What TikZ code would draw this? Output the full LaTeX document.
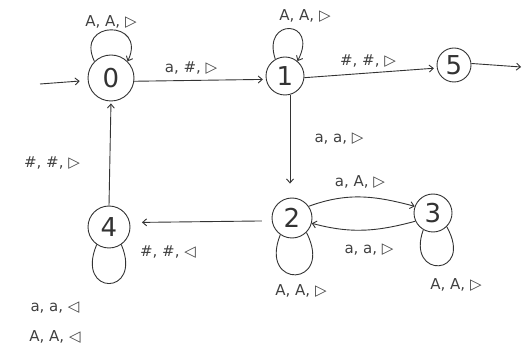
\documentclass[tikz,border=0pt]{standalone}
\usepackage{fontspec}
\setmainfont{DejaVu Sans}
\usetikzlibrary{arrows.meta}
\begin{document}
\begin{tikzpicture}[x=1pt,y=-1pt,
  ink/.style={draw=black!80, line width=0.9pt},
  state/.style={circle, draw=black!80, line width=0.9pt, inner sep=0pt,
    font=\fontsize{26}{26}\selectfont, text=black!80},
  lbl/.style={font=\fontsize{15}{15}\selectfont, text=black!75, inner sep=1pt},
  arr/.style={ink, -{Straight Barb[length=4pt,width=7pt]}},
  plain/.style={ink},
]
\useasboundingbox (0,0) rectangle (522,355);

% states
\node[state, minimum size=46pt] (s0) at (111,78) {0};
\node[state, minimum size=38pt] (s1) at (285,76) {1};
\node[state, minimum size=34pt] (s5) at (454,65) {5};
\node[state, minimum size=40pt] (s2) at (292,218) {2};
\node[state, minimum size=38pt] (s3) at (433,213) {3};
\node[state, minimum size=42pt] (s4) at (109,227) {4};

\coordinate (start) at (40,84);
\coordinate (finish) at (521,67);

% transitions between states
\draw[arr, shorten >=8pt] (start) -- (s0.186);
\draw[arr, shorten >=3pt] (s0.-8) -- (s1.190);
\draw[arr, shorten >=3pt] (s1.-5) -- (s5.190);
\draw[arr] (s5.5) -- (finish);
\draw[arr, shorten >=14pt] ([xshift=5pt]s1.south) -- ([xshift=-2pt]s2.north);
\draw[arr, shorten <=10pt, shorten >=12pt] (s2.188) -- (s4.12);
\draw[arr, shorten >=2pt] (s4.north) -- (s0.south);
\draw[arr] (s2.35) to[out=20,in=165] (s3.160);
\draw[arr] (s3.205) to[out=195,in=-15] (s2.-15);

% self loops
\draw[arr] (s0.135) .. controls +(-20,-42) and +(20,-42) .. (s0.45);
\draw[arr] (s1.120) .. controls +(-14,-42) and +(22,-42) .. (s1.50);
\draw[plain] (s2.235) .. controls +(-22,55) and +(28,55) .. (s2.-45);
\draw[plain] (s3.240) .. controls +(-18,50) and +(28,50) .. (s3.-45);
\draw[plain] (s4.235) .. controls +(-22,52) and +(22,52) .. (s4.-55);

% labels
\node[lbl] (l00) at (111,22) {A, A, ▷};
\node[lbl] (l01) at (191,68) {a, \#, ▷};
\node[lbl] (l11) at (305,16) {A, A, ▷};
\node[lbl] (l15) at (368,61) {\#, \#, ▷};
\node[lbl] (l12) at (339,139) {a, a, ▷};
\node[lbl] (l23) at (360,182) {a, A, ▷};
\node[lbl] (l32) at (369,250) {a, a, ▷};
\node[lbl] (l22) at (301,291) {A, A, ▷};
\node[lbl] (l33) at (456,285) {A, A, ▷};
\node[lbl] (l24) at (168,252) {\#, \#, ◁};
\node[lbl] (l40) at (52,163) {\#, \#, ▷};
\node[lbl] (l44a) at (55,308) {a, a, ◁};
\node[lbl] (l44b) at (55,337) {A, A, ◁};
\end{tikzpicture}
\end{document}
